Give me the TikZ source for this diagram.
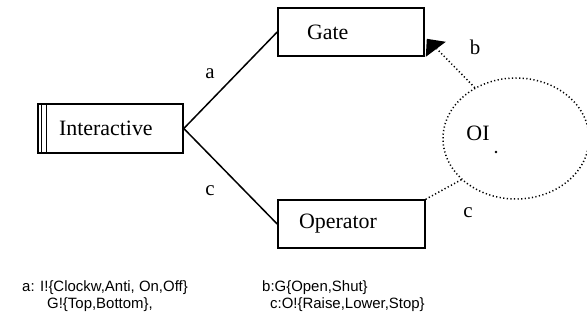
\documentclass[tikz,border=0pt]{standalone}
\usepackage{fontspec}
\setmainfont{Liberation Serif}
\newfontfamily\arialfont{Liberation Sans}
\usepackage{tikz}
\usetikzlibrary{arrows.meta,positioning,shapes.geometric,calc}

\begin{document}
\begin{tikzpicture}[x=1bp, y=1bp,
    ent/.style={draw, line width=1.6bp, align=left,
      font=\fontsize{22}{24}\selectfont},
    link/.style={line width=1.5bp},
    obs/.style={line width=1.5bp, dash pattern=on 1.2bp off 2.4bp},
    lbl/.style={font=\fontsize{21}{23}\selectfont},
    note/.style={font=\arialfont\fontsize{15}{17}\selectfont, anchor=west, inner sep=0pt}
  ]
    \useasboundingbox (0,0) rectangle (587,-333);

    % entities
    \node[ent, text width=103bp, inner xsep=21bp, minimum height=49bp] (inter) at (110.5,-128.5) {Interactive};
    \node[ent, text width=88bp, inner xsep=29bp, minimum height=48bp] (gate) at (351,-32) {Gate};
    \node[ent, text width=105bp, inner xsep=21bp, minimum height=48bp] (oper) at (351.5,-224) {Operator};
    \draw[line width=1.2bp] ([xshift=4.5bp]inter.north west) -- ([xshift=4.5bp]inter.south west);
    \draw[line width=1.2bp] ([xshift=9.5bp]inter.north west) -- ([xshift=9.5bp]inter.south west);

    % observer
    \node[obs, draw, ellipse, minimum width=146bp, minimum height=121bp] (oi) at (516,-138.5) {};
    \node[lbl, font=\fontsize{22}{24}\selectfont] (oitext) at (478,-133) {OI};
    \fill (496,-152) circle (1.3bp) coordinate (oidot);

    % connections
    \draw[link] (inter.east) -- (gate.west);
    \draw[link] (inter.east) -- (oper.west);
    \coordinate (tipbase) at ([shift={(12bp,8bp)}]gate.south east);
    \draw[obs] (oi.129) -- (tipbase);
    \fill ([xshift=1bp]gate.south east) -- ++(1bp,18bp) -- ++(19bp,-3bp) -- cycle;
    \draw[obs] (oi.217) -- (oper.north east);

    \node[lbl] (la) at (210,-74) {a};
    \node[lbl] (lc) at (210,-191) {c};
    \node[lbl] (lb) at (475,-47) {b};
    \node[lbl] (lc2) at (468,-213) {c};

    % interface signals
    \node[note] (na) at (22,-288) {a: I!\{Clockw,Anti, On,Off\}};
    \node[note] (na2) at (47,-305) {G!\{Top,Bottom\},};
    \node[note] (nb) at (262,-288) {b:G\{Open,Shut\}};
    \node[note] (nc) at (270,-305) {c:O!\{Raise,Lower,Stop\}};
\end{tikzpicture}
\end{document}
